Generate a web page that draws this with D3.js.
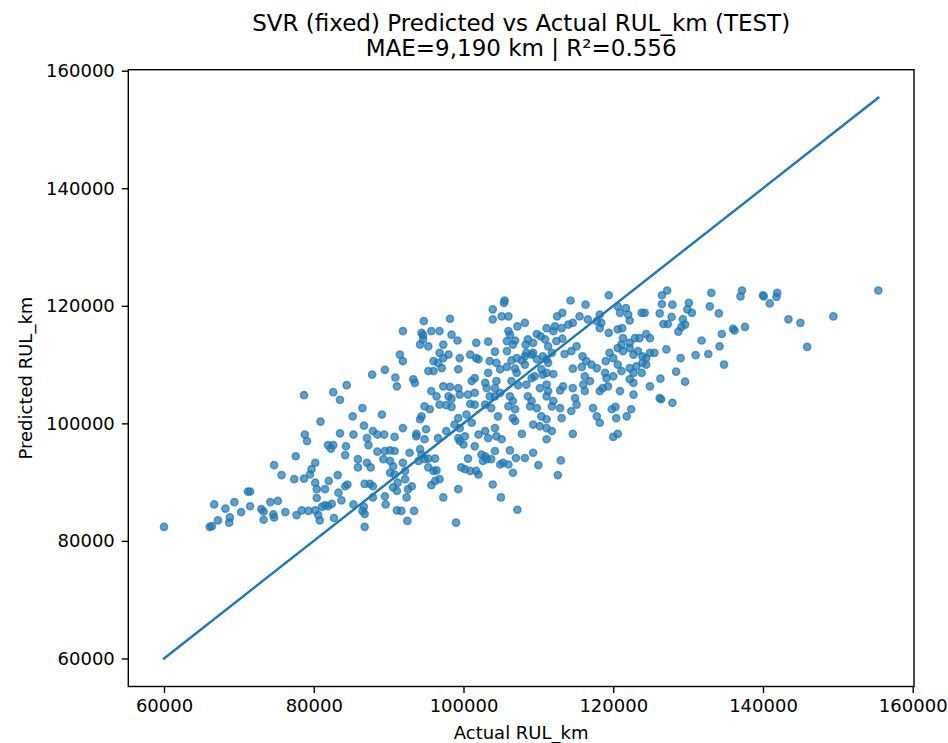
<!DOCTYPE html>
<html>
<head>
<meta charset="utf-8">
<script src="https://cdn.jsdelivr.net/npm/d3@7"></script>
<style>
  html, body { margin: 0; padding: 0; background: #fff; }
  text { font-family: "DejaVu Sans", sans-serif; fill: #000; }
</style>
</head>
<body>
<div id="chart"></div>
<script>
// values (km)
const actualRUL = [
  87800, 89500, 90900, 91100, 84400, 82600, 78700, 83500, 86500, 85200, 89100, 80900, 86700, 87900, 89400, 88500,
  78800, 79100, 83500, 85300, 87100, 87300, 90800, 81900, 82600, 84300, 82300, 84200, 88500, 89500, 90200, 90800,
  77600, 85900, 87100, 87600, 85900, 89300, 90200, 90600, 80200, 79700, 74700, 75700, 77400, 78700, 79500, 83200,
  82000, 80200, 80400, 81500, 84500, 84200, 86800, 87500, 87900, 90200, 90800, 90600, 91200, 71200, 71500, 83300,
  80400, 83700, 87900, 89500, 89600, 91100, 81500, 81900, 81100, 82400, 85300, 86700, 86500, 66700, 69400, 68200,
  70300, 71500, 74200, 75200, 73000, 73300, 74600, 74700, 76200, 73300, 78400, 79300, 80200, 77700, 80600, 80800,
  82700, 86800, 91100, 86800, 68800, 68700, 67200, 66100, 66400, 60000,
  93700, 93700, 95000, 94800, 91900, 92800, 91900, 92200, 94200, 94400, 94000, 94800, 95300, 96200, 95300, 96000,
  96400, 96600, 97700, 96800, 96200, 95700, 92200, 92600, 93100, 92400, 97300, 91700, 93400, 92500, 99000, 99300,
  99700, 100200, 100900, 101700, 102000, 100600, 99300, 99500, 100200, 100000, 98800, 99500, 101100, 101500, 102000, 102900,
  103300, 104200, 105100, 104400, 102400, 102900, 103100, 102600, 104200, 103700, 104900, 105300, 106000, 106200, 106600, 107000,
  108200, 107800, 109300, 106900, 109300, 110200, 111100, 111800, 111100, 110000, 113000, 112600, 114600, 103900, 105000, 107200,
  118200, 120000, 120600,
  119400, 114300, 116300, 105500, 105400, 103900, 105100, 106000, 103900, 98200, 94700, 112500, 113200, 120600, 121700, 120900,
  122000, 118200, 123800, 115500, 116600, 117800, 118400, 118200, 122200, 114600, 114000, 113100, 108200, 107200, 111100, 112000,
  112200, 91900, 94400, 94600, 95700, 96800, 98400, 99200, 106000, 106200, 109800, 110300, 119400, 120600, 121200, 122900,
  123500, 121300, 122200, 121100, 112400, 113200, 108600, 108300, 109300, 110900, 111300, 111800, 106900, 106600, 105800, 105800,
  101700, 103300, 94200, 95300, 94600, 91500, 91900, 97300, 96800, 97300, 98000, 100900, 101700, 102000, 104200, 104400,
  108400, 109100, 109300, 108200, 109800, 110600, 111100, 111300, 107800, 108200, 106400, 107100, 115100, 115900, 116400, 113500,
  114400, 119000, 119500, 120000, 120600, 121300, 122200, 122700, 123300, 123900, 117100, 117800, 120600, 121100, 122200, 122700,
  123100, 123900, 123800, 96000, 96600, 97100, 96000, 95300, 99500, 99300, 103500, 103300, 104900, 105800, 106900, 107100,
  106400, 110400, 110600, 111100, 112000, 109100, 109500, 114600, 115800, 116200, 116900, 118900, 119100, 120000, 122200, 122700,
  93300, 93500, 101500, 101100, 102900, 103100, 104400, 104200, 104900, 107300, 108400, 110200, 111100, 111300, 113300, 112900,
  114600, 114900, 116000, 116200, 118200, 118600, 119300, 120900, 122700, 97300, 98200, 99300, 95700, 96400, 99500, 100600,
  101500, 98000, 98400, 103500, 104200, 106200, 106600, 108600, 109100, 111100, 112000, 96800, 97700, 98400, 100900, 101500,
  94800, 95500, 102900, 103700, 106000, 106900, 108900, 109800, 111800, 112900, 115100, 114400, 117300, 117800, 119800, 120300,
  122400, 94400, 94200, 99300, 100400, 104600, 106600, 110400, 111100, 113100, 120400, 121800,
  155400, 149400, 143400, 145000, 145900, 140000, 140100, 140900, 141900, 141800, 137200, 137000, 133100, 127200, 126500, 126500,
  127900, 130100, 129900, 130500, 132900, 134100, 126200, 127800, 127300, 126700, 129300, 129600, 129100, 128700, 124200, 136000,
  136200, 137600, 134500, 124400, 124900, 131800, 134200, 127100, 124900, 125500, 124400, 124400, 132700, 131000, 129000, 134800,
  128400, 126300, 124900, 129600, 126200, 126400, 127900
];

const predictedRUL = [
  108300, 109100, 107800, 106300, 106500, 105300, 104800, 104000, 102600, 101200, 101500, 100300, 99600, 98700, 98100, 98100,
  98100, 97000, 98300, 98100, 97500, 96300, 97700, 96300, 96300, 96100, 95700, 94600, 95200, 95300, 95400, 95300,
  94400, 93900, 93300, 92500, 92500, 93900, 93600, 92700, 93300, 92200, 92900, 91200, 90500, 90600, 91300, 91200,
  90200, 89900, 88800, 88800, 89600, 89300, 89700, 89700, 89300, 91600, 91300, 89100, 89900, 88400, 88400, 88200,
  87300, 86900, 87400, 87600, 86200, 88500, 86100, 85900, 85800, 86300, 86200, 85800, 85100, 86200, 86600, 85500,
  84900, 85900, 86600, 86800, 85400, 85000, 84500, 84000, 84900, 83600, 85200, 85100, 85200, 84400, 84400, 83500,
  83900, 84600, 85200, 82400, 84000, 83100, 83500, 82400, 82500, 82400,
  98200, 97800, 99000, 97300, 99200, 95000, 93300, 91900, 95600, 94700, 93600, 93900, 94000, 94000, 92500, 91900,
  92000, 97500, 98700, 90500, 90200, 89500, 90500, 88800, 89300, 87400, 87400, 85100, 85100, 83400, 83100, 88800,
  92500, 92200, 91900, 91900, 91300, 94000, 97500, 97000, 97800, 96400, 99800, 99200, 100100, 96100, 98100, 98700,
  97500, 99200, 97300, 97800, 94700, 94400, 93900, 93600, 95300, 93900, 93000, 93300, 93000, 95400, 91600, 94100,
  94100, 98200, 95000, 100400, 99800, 99500, 99200, 98700, 97300, 92900, 93700, 91200, 98200, 89600, 87400, 85300,
  100100, 97700, 98200,
  121800, 120900, 120200, 120900, 120500, 119400, 118200, 118200, 117700, 117800, 117400, 118200, 118800, 119900, 119600, 118800,
  118500, 118500, 118800, 118200, 117700, 117400, 117100, 116200, 117500, 117100, 116800, 116200, 117100, 116500, 116200, 115700,
  116500, 115700, 115400, 115000, 115700, 115700, 115100, 114100, 115700, 115100, 115200, 114800, 115400, 116000, 116200, 114500,
  114500, 114500, 113700, 113400, 114000, 114400, 114300, 113400, 113700, 114300, 113100, 112000, 114100, 113400, 114000, 112300,
  113700, 113900, 113400, 113100, 114300, 111700, 110600, 113400, 112000, 111100, 111700, 111700, 111100, 110900, 112200, 110300,
  112000, 111700, 112000, 111400, 110900, 111400, 110900, 110300, 110700, 110000, 110700, 111100, 113100, 111400, 110600, 111800,
  112300, 110600, 112000, 111100, 112800, 112300, 112800, 111700, 112300, 111400, 110000, 109400, 110000, 108900, 109400, 108600,
  109700, 110300, 108600, 110600, 110300, 109400, 108900, 108900, 111100, 109200, 110600, 108600, 109200, 109600, 109300, 108600,
  107200, 109200, 108300, 108600, 108400, 107700, 108000, 109300, 109600, 108000, 107200, 108600, 107700, 108000, 107500, 106900,
  107500, 106900, 107700, 107200, 106900, 106000, 107200, 106000, 105200, 106500, 106600, 106000, 106600, 105500, 106300, 105600,
  106000, 104300, 106600, 105500, 105500, 106000, 106300, 105500, 104900, 106300, 106200, 106000, 105500, 104600, 104900, 104900,
  105200, 104600, 104200, 104600, 104600, 104600, 103800, 104600, 103800, 104600, 103800, 103200, 103100, 102800, 103300, 103200,
  102900, 102400, 103200, 102600, 102900, 102400, 102900, 102600, 102900, 102600, 103200, 102100, 102600, 101200, 102400, 102800,
  102400, 101200, 100700, 100900, 101500, 101200, 100900, 101200, 100700, 100900, 100900, 101200,
  122600, 118200, 117700, 117100, 113000, 121800, 121600, 120400, 122200, 121500, 122600, 121600, 122200, 122600, 121800, 120300,
  120200, 120500, 119400, 118800, 119900, 118700, 118700, 118100, 116900, 116900, 117700, 116800, 116400, 115600, 118800, 116100,
  115800, 116400, 115200, 115200, 114500, 114100, 113100, 112600, 112000, 112000, 111100, 110000, 111800, 111600, 111100, 110000,
  108800, 107600, 106300, 107100, 104300, 104100, 103500
];

const xTicks = [60000, 80000, 100000, 120000, 140000, 160000];
const yTicks = [60000, 80000, 100000, 120000, 140000, 160000];

const titleLines = ['SVR (fixed) Predicted vs Actual RUL_km (TEST)', 'MAE=9,190 km | R\u00b2=0.556'];
const xLabelText = 'Actual RUL_km';
const yLabelText = 'Predicted RUL_km';

const WIDTH_ALL = 948, HEIGHT_ALL = 743;
const margin = { LEFT: 128.3, RIGHT: 34, TOP: 69.7, BOTTOM: 56.5 };
const WIDTH = WIDTH_ALL - margin.LEFT - margin.RIGHT;
const HEIGHT = HEIGHT_ALL - margin.TOP - margin.BOTTOM;
const COLOR = '#1f77b4';

const points = actualRUL.map((a, i) => ({ a, p: predictedRUL[i] }));

// matplotlib style 5% padding on the data range
const lo = d3.min([...actualRUL, ...predictedRUL]);
const hi = d3.max([...actualRUL, ...predictedRUL]);
const pad = (hi - lo) * 0.05;

const x = d3.scaleLinear().domain([lo - pad, hi + pad]).range([0, WIDTH]);
const y = d3.scaleLinear().domain([lo - pad, hi + pad]).range([HEIGHT, 0]);

const svg = d3.select('#chart').append('svg')
  .attr('width', WIDTH_ALL)
  .attr('height', HEIGHT_ALL);

const g = svg.append('g')
  .attr('transform', `translate(${margin.LEFT}, ${margin.TOP})`);

// points
g.append('g').selectAll('circle')
  .data(points)
  .join('circle')
  .attr('cx', d => x(d.a))
  .attr('cy', d => y(d.p))
  .attr('r', 3.6)
  .attr('fill', COLOR)
  .attr('fill-opacity', 0.7)
  .attr('stroke', COLOR)
  .attr('stroke-opacity', 0.7)
  .attr('stroke-width', 1.5);

// identity line
g.append('line')
  .attr('x1', x(lo)).attr('y1', y(lo))
  .attr('x2', x(hi)).attr('y2', y(hi))
  .attr('stroke', COLOR)
  .attr('stroke-width', 2.4)
  .attr('stroke-linecap', 'square');

// axes
const xAxis = g.append('g')
  .attr('transform', `translate(0, ${HEIGHT})`)
  .call(d3.axisBottom(x).tickValues(xTicks).tickFormat(d3.format('d')).tickSizeOuter(0).tickSize(6.5).tickPadding(6));

const yAxis = g.append('g')
  .call(d3.axisLeft(y).tickValues(yTicks).tickFormat(d3.format('d')).tickSizeOuter(0).tickSize(6.5).tickPadding(7));

[xAxis, yAxis].forEach(ax => {
  ax.select('.domain').remove();
  ax.selectAll('line').attr('stroke', '#000').attr('stroke-width', 1.4);
  ax.selectAll('text').attr('font-size', '18px').attr('font-family', 'DejaVu Sans').attr('fill', '#000');
});

// frame
g.append('rect')
  .attr('width', WIDTH)
  .attr('height', HEIGHT)
  .attr('fill', 'none')
  .attr('stroke', '#000')
  .attr('stroke-width', 1.4);

// labels
svg.append('text')
  .attr('x', margin.LEFT + WIDTH / 2)
  .attr('y', 739)
  .attr('text-anchor', 'middle')
  .attr('font-size', '18px')
  .text(xLabelText);

svg.append('text')
  .attr('transform', `translate(32, ${margin.TOP + HEIGHT / 2}) rotate(-90)`)
  .attr('text-anchor', 'middle')
  .attr('font-size', '18px')
  .text(yLabelText);

svg.append('g').selectAll('text')
  .data(titleLines)
  .join('text')
  .attr('x', margin.LEFT + WIDTH / 2)
  .attr('y', (d, i) => 30.5 + i * 25.5)
  .attr('text-anchor', 'middle')
  .attr('font-size', '23px')
  .text(d => d);
</script>
</body>
</html>
